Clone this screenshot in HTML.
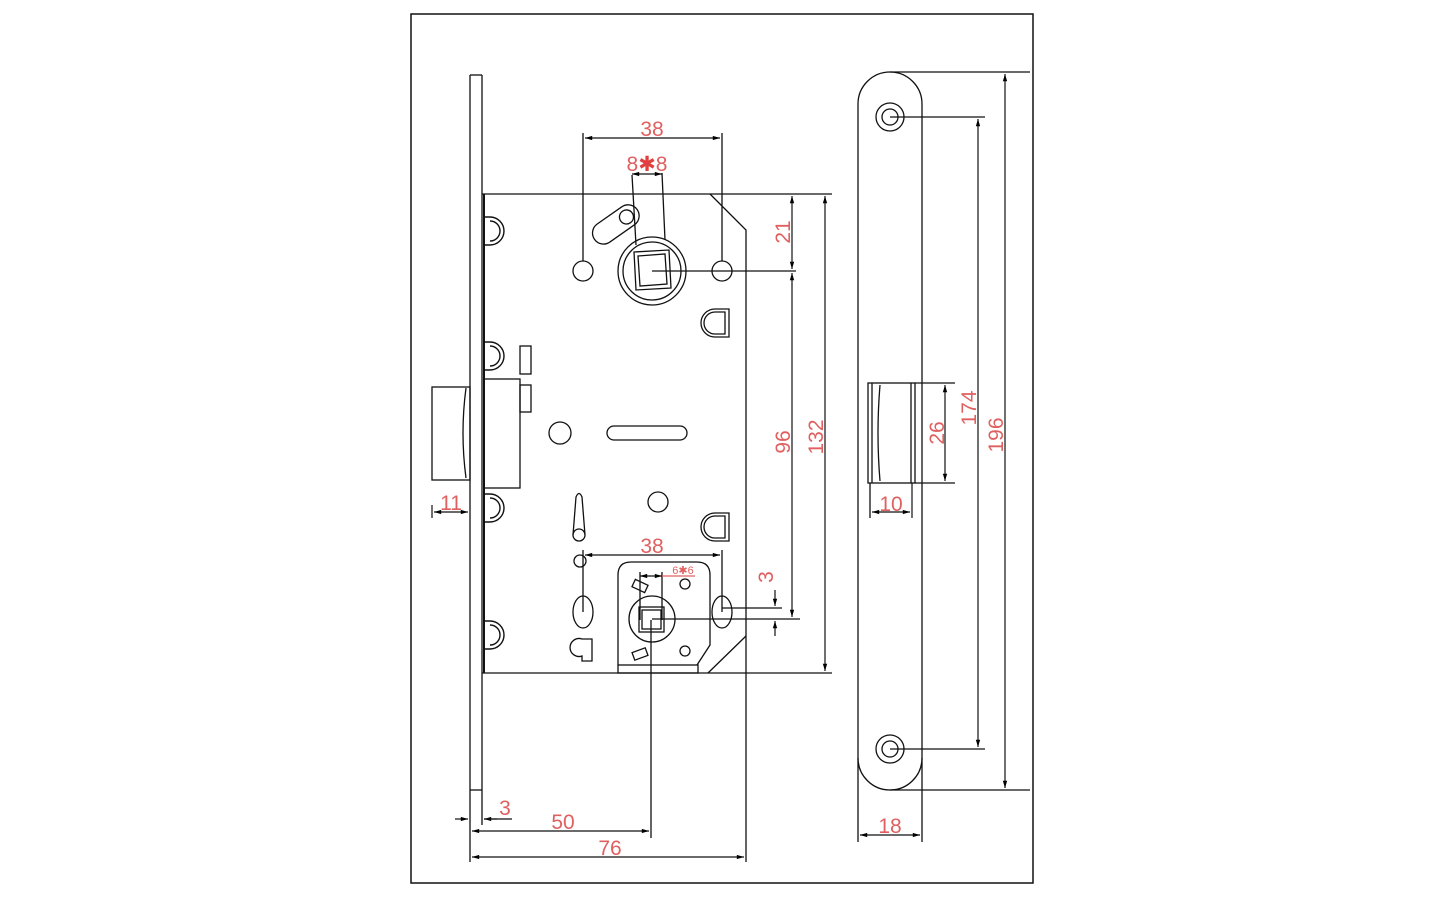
<!DOCTYPE html>
<html><head><meta charset="utf-8"><style>
html,body{margin:0;padding:0;background:#fff;}
svg{display:block}
text{font-family:"Liberation Sans",sans-serif;fill:#e06060;}
</style></head><body>
<svg width="1440" height="900" viewBox="0 0 1440 900" xmlns="http://www.w3.org/2000/svg">
<defs>
<marker id="a" viewBox="0 0 10 10" refX="10" refY="5" markerWidth="8" markerHeight="6" orient="auto-start-reverse"><path d="M0,2 L10,5 L0,8 z" fill="#000"/></marker>
</defs>
<g fill="none" stroke="#111" stroke-width="1.3">
<rect x="411" y="14" width="622" height="869" stroke-width="1.5"/>
<line x1="470" y1="75" x2="470" y2="862"/>
<line x1="482" y1="75" x2="482" y2="790"/>
<line x1="470" y1="75" x2="482" y2="75"/>
<line x1="470" y1="790" x2="482" y2="790"/>
<line x1="482" y1="790" x2="482" y2="825"/>
<path d="M482,194 L832,194"/>
<path d="M710,194 L746,230 L746,862"/>
<path d="M482,673 L832,673"/>
<path d="M708,673 L746,636"/>
<line x1="484" y1="194" x2="484" y2="673" stroke-width="2"/>
<g stroke-width="1.4">
<path d="M484,217 h6 a14,14 0 0 1 0,28 h-6"/><path d="M490,221 a10,10 0 0 1 0,20"/>
<path d="M484,342 h6 a14,14 0 0 1 0,28 h-6"/><path d="M490,346 a10,10 0 0 1 0,20"/>
<path d="M484,494 h6 a14,14 0 0 1 0,28 h-6"/><path d="M490,498 a10,10 0 0 1 0,20"/>
<path d="M484,621 h6 a14,14 0 0 1 0,28 h-6"/><path d="M490,625 a10,10 0 0 1 0,20"/>
</g>
<rect x="432" y="387" width="38" height="93"/>
<path d="M466,388 Q460,433 466,478"/>
<rect x="484" y="379" width="36" height="109"/>
<rect x="520" y="346" width="11" height="28"/>
<rect x="520" y="385" width="11" height="27"/>
<circle cx="560" cy="433" r="11"/>
<rect x="607" y="426" width="80" height="14" rx="7"/>
<path d="M573,535 L576,497 Q579,490 582,497 L585,535"/><circle cx="579" cy="535" r="6"/>
<circle cx="658" cy="502" r="10"/>
<circle cx="580" cy="561" r="6"/>
<path d="M729,309 h-14 a14,14 0 0 0 0,28 h14 z"/><path d="M725,312 v22 h-10 a10,10 0 0 1 0,-22 z"/>
<path d="M729,513 h-14 a14,14 0 0 0 0,28 h14 z"/><path d="M725,516 v22 h-10 a10,10 0 0 1 0,-22 z"/>
<circle cx="583" cy="271" r="10"/><circle cx="722" cy="271" r="10"/>
<circle cx="652" cy="271" r="34"/><circle cx="652" cy="271" r="29"/>
<path d="M634,252 L669,250 L671,288 L636,290 z"/><path d="M638,256 L665,254 L667,284 L640,286 z"/>
<g transform="rotate(-35 615 225)"><rect x="590" y="214" width="52" height="22" rx="11"/><circle cx="629" cy="225" r="7"/></g>
<line x1="652" y1="271" x2="796" y2="271" />
<line x1="583" y1="261" x2="583" y2="133"/><line x1="722" y1="261" x2="722" y2="133"/>
<line x1="632" y1="175" x2="636" y2="245"/><line x1="662" y1="173" x2="665" y2="240"/>
<path d="M618,665 L618,575 Q618,562 631,562 L697,562 Q710,562 710,575 L710,645 L697,665"/>
<rect x="618" y="665" width="80" height="8"/>
<circle cx="652" cy="619" r="23"/>
<rect x="639" y="607" width="25" height="25"/><rect x="642" y="610" width="19" height="19"/>
<circle cx="685" cy="584" r="5"/><circle cx="685" cy="651" r="5"/>
<rect x="633" y="582" width="14" height="8" transform="rotate(25 640 586)"/>
<rect x="633" y="650" width="14" height="8" transform="rotate(-20 640 654)"/>
<ellipse cx="583" cy="612" rx="10" ry="16"/><ellipse cx="722" cy="612" rx="10" ry="16"/>
<path d="M592,639 h-10 a9,9 0 1 0 0,17 v5 h10 z"/>
<line x1="583" y1="612" x2="583" y2="550"/><line x1="722" y1="612" x2="722" y2="550"/>
<line x1="640" y1="572" x2="640" y2="620"/><line x1="662" y1="572" x2="662" y2="620"/>
<line x1="722" y1="608" x2="782" y2="608"/><line x1="652" y1="619" x2="800" y2="619"/>
<line x1="651" y1="620" x2="651" y2="838"/>
<path d="M858,104 A32,32 0 0 1 922,104 L922,758 A32,32 0 0 1 858,758 Z"/>
<line x1="858" y1="758" x2="858" y2="842"/><line x1="922" y1="758" x2="922" y2="842"/>
<circle cx="890" cy="117" r="14"/><circle cx="890" cy="117" r="8"/>
<circle cx="890" cy="749" r="14"/><circle cx="890" cy="749" r="8"/>
<rect x="868" y="383" width="47" height="100"/><line x1="872" y1="383" x2="872" y2="483"/><line x1="911" y1="383" x2="911" y2="483"/>
<path d="M880,385 Q876,433 880,481"/>
<line x1="890" y1="72" x2="1030" y2="72"/><line x1="890" y1="790" x2="1030" y2="790"/>
<line x1="890" y1="117" x2="985" y2="117"/><line x1="890" y1="749" x2="985" y2="749"/>
<line x1="915" y1="383" x2="955" y2="383"/><line x1="915" y1="483" x2="955" y2="483"/>
<line x1="870" y1="483" x2="870" y2="518"/>
</g>
<g stroke="#111" stroke-width="1.2" marker-start="url(#a)" marker-end="url(#a)">
<line x1="585" y1="138" x2="720" y2="138"/>
<line x1="585" y1="555" x2="720" y2="555"/>
<line x1="632" y1="174" x2="662" y2="174"/>
<line x1="640" y1="576" x2="662" y2="576"/>
<line x1="825" y1="196" x2="825" y2="671"/>
<line x1="792" y1="196" x2="792" y2="269"/>
<line x1="792" y1="273" x2="792" y2="617"/>
<line x1="434" y1="512" x2="468" y2="512"/>
<line x1="472" y1="857" x2="744" y2="857"/>
<line x1="472" y1="831" x2="649" y2="831"/>
<line x1="1005" y1="74" x2="1005" y2="788"/>
<line x1="978" y1="119" x2="978" y2="747"/>
<line x1="945" y1="385" x2="945" y2="481"/>
<line x1="872" y1="512" x2="910" y2="512"/>
<line x1="860" y1="835" x2="920" y2="835"/>
</g>
<g stroke="#111" stroke-width="1.2">
<line x1="455" y1="819" x2="468" y2="819" marker-end="url(#a)"/>
<line x1="497" y1="819" x2="484" y2="819" marker-end="url(#a)"/>
<line x1="484" y1="819" x2="512" y2="819"/>
<line x1="775" y1="590" x2="775" y2="606" marker-end="url(#a)"/>
<line x1="775" y1="636" x2="775" y2="621" marker-end="url(#a)"/>
<line x1="662" y1="576" x2="695" y2="576" stroke="#e06060"/>
<line x1="432" y1="505" x2="432" y2="518"/>
<line x1="912" y1="483" x2="912" y2="518"/>
</g>
<g font-size="21" text-anchor="middle">
<text x="652" y="136">38</text>
<text x="647" y="171">8<tspan fill="#e04040">✱</tspan>8</text>
<text x="652" y="553">38</text>
<text x="683" y="574" font-size="11">6✱6</text>
<text x="451" y="510">11</text>
<text x="505" y="815">3</text>
<text x="563" y="829">50</text>
<text x="610" y="855">76</text>
<text x="891" y="511">10</text>
<text x="890" y="833">18</text>
<text transform="translate(790,232) rotate(-90)">21</text>
<text transform="translate(790,442) rotate(-90)">96</text>
<text transform="translate(823,437) rotate(-90)">132</text>
<text transform="translate(773,577) rotate(-90)">3</text>
<text transform="translate(944,433) rotate(-90)">26</text>
<text transform="translate(976,408) rotate(-90)">174</text>
<text transform="translate(1003,435) rotate(-90)">196</text>
</g>
</svg>
</body></html>
